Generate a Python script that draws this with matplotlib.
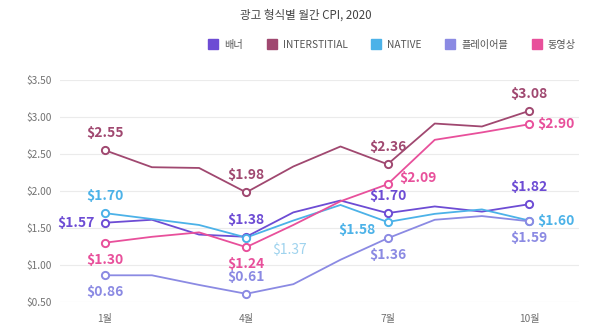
import matplotlib
matplotlib.use("Agg")
import matplotlib.pyplot as plt
from matplotlib.lines import Line2D

plt.rcParams['font.family'] = ['Noto Sans CJK KR', 'DejaVu Sans']

title = "광고 형식별 월간 CPI, 2020"
months = [1, 2, 3, 4, 5, 6, 7, 8, 9, 10]
tick_months = [1, 4, 7, 10]
tick_labels = ["1월", "4월", "7월", "10월"]
y_ticks = [0.5, 1.0, 1.5, 2.0, 2.5, 3.0, 3.5]

series_names = ["배너", "INTERSTITIAL", "NATIVE", "플레이어블", "동영상"]
banner = [1.57, 1.61, 1.41, 1.38, 1.71, 1.87, 1.70, 1.79, 1.72, 1.82]
interstitial = [2.55, 2.32, 2.31, 1.98, 2.33, 2.60, 2.36, 2.91, 2.87, 3.08]
native = [1.70, 1.62, 1.54, 1.37, 1.60, 1.81, 1.58, 1.69, 1.75, 1.60]
playable = [0.86, 0.86, 0.73, 0.61, 0.74, 1.07, 1.36, 1.61, 1.66, 1.59]
video = [1.30, 1.38, 1.44, 1.24, 1.54, 1.86, 2.09, 2.69, 2.79, 2.90]

colors = ['#6d4cd4', '#a04870', '#4cb2e8', '#8b8ae3', '#e8509b']
all_series = [banner, interstitial, native, playable, video]

label_pos = {
    0: {1: (-10, 0, 'right', 'center'), 4: (0, 10, 'center', 'bottom'),
        7: (0, 10, 'center', 'bottom'), 10: (0, 10, 'center', 'bottom')},
    1: {1: (0, 10, 'center', 'bottom'), 4: (0, 10, 'center', 'bottom'),
        7: (0, 10, 'center', 'bottom'), 10: (0, 10, 'center', 'bottom')},
    2: {1: (0, 10, 'center', 'bottom'), 4: (26, -12, 'left', 'center'),
        7: (-12, -8, 'right', 'center'), 10: (8, 0, 'left', 'center')},
    3: {1: (0, -10, 'center', 'top'), 4: (0, 10, 'center', 'bottom'),
        7: (0, -10, 'center', 'top'), 10: (0, -10, 'center', 'top')},
    4: {1: (0, -10, 'center', 'top'), 4: (0, -10, 'center', 'top'),
        7: (12, 6, 'left', 'center'), 10: (8, 0, 'left', 'center')},
}

fig = plt.figure(figsize=(6, 3.3), dpi=100)
ax = fig.add_axes([0.1, 0.085, 0.865, 0.673])

for i, (vals, c) in enumerate(zip(all_series, colors)):
    ax.plot(months, vals, color=c, lw=1.3, zorder=3)
    mx = [m for m in months if m in tick_months]
    my = [vals[months.index(m)] for m in mx]
    ax.plot(mx, my, linestyle='none', marker='o', markersize=5.2,
            markerfacecolor='white', markeredgecolor=c, markeredgewidth=1.4, zorder=4)
    for m in tick_months:
        v = vals[months.index(m)]
        dx, dy, ha, va = label_pos[i][m]
        tc = c
        weight = 'bold'
        if i == 2 and m == 4:
            tc = '#9fd3ee'
            weight = 'normal'
        ax.annotate(f"${v:.2f}", (m, v), xytext=(dx * 0.72, dy * 0.72),
                    textcoords='offset points', ha=ha, va=va, fontsize=10,
                    color=tc, fontweight=weight, zorder=5, annotation_clip=False)

ax.set_xlim(0.05, 11.06)
ax.set_ylim(0.5, 3.5)
ax.set_yticks(y_ticks)
ax.set_yticklabels([f"${t:.2f}" for t in y_ticks])
ax.set_xticks(tick_months)
ax.set_xticklabels(tick_labels)
ax.tick_params(axis='both', length=0, labelsize=7.3, colors='#707070')
ax.tick_params(axis='y', pad=6)
ax.tick_params(axis='x', pad=9)
ax.grid(axis='y', color='#ebebeb', lw=0.8, zorder=0)
for s in ax.spines.values():
    s.set_visible(False)

fig.text(0.51, 0.955, title, ha='center', va='center', fontsize=8.3, color='#444444')

handles = [Line2D([], [], marker='s', linestyle='none', markersize=7, color=c) for c in colors]
fig.legend(handles, series_names, loc='center right', bbox_to_anchor=(0.975, 0.865),
           ncol=5, frameon=False, fontsize=7.3, handletextpad=0.6, columnspacing=2.3,
           labelcolor='#555555', handlelength=1.0)

fig.savefig('out.png', dpi=100)
